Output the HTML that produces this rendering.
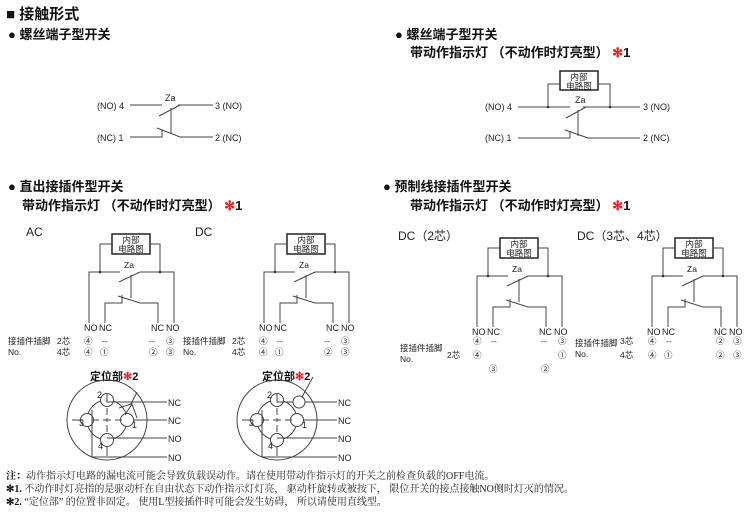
<!DOCTYPE html>
<html><head><meta charset="utf-8"><style>
body{margin:0;background:#fff;width:750px;height:513px;overflow:hidden}
svg{display:block}
text{font-family:"Liberation Sans","Noto Sans CJK SC",sans-serif;fill:#222}
.b{font-weight:bold;fill:#111}
.n{font-family:"Liberation Serif","Noto Serif CJK SC",serif}
.l{stroke:#444;stroke-width:1;fill:none}
</style></head><body>
<svg width="750" height="513" viewBox="0 0 750 513">
<defs>
<g id="sw">
 <rect x="112" y="234" width="38" height="20" fill="#fff" stroke="#222" stroke-width="1.5"/>
 <text x="131" y="243" font-size="8.5" text-anchor="middle">内部</text>
 <text x="131" y="252" font-size="8.5" text-anchor="middle">电路图</text>
 <path class="l" d="M112 244H100V272M150 244H160V272"/>
 <circle cx="100" cy="272" r="1.3" fill="#222"/><circle cx="160" cy="272" r="1.3" fill="#222"/>
 <text x="129" y="268" font-size="8.5" text-anchor="middle">Za</text>
 <path class="l" d="M89 323V272H120M140 272H174V323M119 282L140 272M131 275V298M105 323V303H122V295M118 296L140 303H158V323"/>
 <text x="84" y="331" font-size="9">NO</text><text x="99" y="331" font-size="9">NC</text>
 <text x="151" y="331" font-size="9">NC</text><text x="166" y="331" font-size="9">NO</text>
</g>
<g id="con">
 <circle cx="0" cy="0" r="40" class="l"/>
 <circle cx="0" cy="0" r="20" class="l"/>
 <circle cx="0" cy="-20" r="6.5" fill="#fff" stroke="#444"/>
 <circle cx="-20" cy="0" r="6.5" fill="#fff" stroke="#444"/>
 <circle cx="20" cy="0" r="6.5" fill="#fff" stroke="#444"/>
 <circle cx="0" cy="20" r="6.5" fill="#fff" stroke="#444"/>
 <path class="l" d="M-35 0H-24M-15 0H-8M-4 0H4M8 0H15M0 -12V-5M0 -2V2M0 5V12M0 26V36"/>
 <text x="-10" y="-22" font-size="9">2</text><text x="-28" y="6" font-size="9">3</text>
 <text x="25" y="8" font-size="9">1</text><text x="-9" y="29" font-size="9">4</text>
 <path class="l" d="M0 -26V-18H60M26 0H60M0 18H60M-15 -10V37H60"/>
 <text x="61" y="-14" font-size="9">NC</text><text x="61" y="4" font-size="9">NC</text>
 <text x="61" y="22" font-size="9">NO</text><text x="61" y="41" font-size="9">NO</text>
</g>
</defs>

<text x="6" y="19" font-size="15" class="b">■ 接触形式</text>
<text x="8" y="39" font-size="13" class="b">● 螺丝端子型开关</text>

<text x="97" y="109" font-size="9">(NO) 4</text>
<text x="165" y="101" font-size="9">Za</text>
<path class="l" d="M130 105H162M178 105H213M159 116L180 105M171 108V134M130 137H162V130M157 128L180 137H213"/>
<text x="215" y="109" font-size="9">3 (NO)</text>
<text x="97" y="141" font-size="9">(NC) 1</text>
<text x="215" y="141" font-size="9">2 (NC)</text>

<text x="395" y="39" font-size="13" class="b">● 螺丝端子型开关</text>
<text x="410" y="57" font-size="13" class="b">带动作指示灯 （不动作时灯亮型） <tspan fill="#d22">✻</tspan>1</text>
<rect x="560" y="71" width="38" height="19" fill="#fff" stroke="#222" stroke-width="1.5"/>
<text x="579" y="80" font-size="8.5" text-anchor="middle">内部</text>
<text x="579" y="89" font-size="8.5" text-anchor="middle">电路图</text>
<path class="l" d="M560 84H548V107M598 84H610V107"/>
<circle cx="548" cy="107" r="1.3" fill="#222"/><circle cx="610" cy="107" r="1.3" fill="#222"/>
<text x="575" y="103" font-size="9">Za</text>
<text x="485" y="110" font-size="9">(NO) 4</text>
<text x="643" y="110" font-size="9">3 (NO)</text>
<text x="485" y="141" font-size="9">(NC) 1</text>
<text x="643" y="141" font-size="9">2 (NC)</text>
<path class="l" d="M518 107H570M583 107H640M566 118L586 107M578 110V136M518 138H570V131M565 130L588 138H640"/>

<text x="8" y="191" font-size="13" class="b">● 直出接插件型开关</text>
<text x="22" y="210" font-size="13" class="b">带动作指示灯 （不动作时灯亮型） <tspan fill="#d22">✻</tspan>1</text>
<text x="26" y="236" font-size="12">AC</text>
<text x="195" y="236" font-size="12">DC</text>
<use href="#sw"/>
<use href="#sw" transform="translate(175,0)"/>
<g font-size="8.5">
<text x="8" y="344">接插件插脚</text><text x="8" y="355">No.</text>
<text x="57" y="344">2芯</text><text x="57" y="355">4芯</text>
<text x="84" y="344">④</text><text x="102" y="344">--</text><text x="149" y="344">--</text><text x="166" y="344">③</text>
<text x="84" y="355">④</text><text x="100" y="355">①</text><text x="149" y="355">②</text><text x="166" y="355">③</text>
<text x="183" y="344">接插件插脚</text><text x="183" y="355">No.</text>
<text x="232" y="344">2芯</text><text x="232" y="355">4芯</text>
<text x="259" y="344">④</text><text x="277" y="344">--</text><text x="324" y="344">--</text><text x="341" y="344">③</text>
<text x="259" y="355">④</text><text x="275" y="355">①</text><text x="324" y="355">②</text><text x="341" y="355">③</text>
</g>

<text x="383" y="191" font-size="13" class="b">● 预制线接插件型开关</text>
<text x="410" y="210" font-size="13" class="b">带动作指示灯 （不动作时灯亮型） <tspan fill="#d22">✻</tspan>1</text>
<text x="398" y="240" font-size="12">DC（2芯）</text>
<text x="577" y="240" font-size="12">DC（3芯、4芯）</text>
<use href="#sw" transform="translate(388,4)"/>
<use href="#sw" transform="translate(563,4)"/>
<g font-size="8.5">
<text x="473" y="344">④</text><text x="491" y="344">--</text><text x="541" y="344">--</text><text x="558" y="344">③</text>
<text x="400" y="351">接插件插脚</text><text x="400" y="362">No.</text><text x="447" y="358">2芯</text>
<text x="473" y="358">④</text><text x="558" y="358">①</text>
<text x="489" y="372">③</text><text x="541" y="372">②</text>
<text x="575" y="346">接插件插脚</text><text x="575" y="357">No.</text>
<text x="620" y="344">3芯</text><text x="620" y="358">4芯</text>
<text x="648" y="344">④</text><text x="666" y="344">--</text><text x="716" y="344">②</text><text x="733" y="344">③</text>
<text x="648" y="358">④</text><text x="664" y="358">①</text><text x="716" y="358">②</text><text x="733" y="358">③</text>
</g>

<text x="90" y="380" font-size="11" class="b">定位部<tspan fill="#d22">✻</tspan>2</text>
<text x="262" y="380" font-size="11" class="b">定位部<tspan fill="#d22">✻</tspan>2</text>
<g transform="translate(107,420)"><use href="#con"/><path class="l" d="M12 -12L24 -16L30 -28M18 -5L25 -16L30 -2"/></g>
<g transform="translate(277,420)"><use href="#con"/><circle cx="22" cy="-18" r="6" fill="#fff" stroke="#444"/><path class="l" d="M25 -23L36 -43"/></g>

<g font-size="10">
<text x="6" y="479" class="n"><tspan class="b">注：</tspan>动作指示灯电路的漏电流可能会导致负载误动作。请在使用带动作指示灯的开关之前检查负载的OFF电流。</text>
<text x="6" y="492" class="n"><tspan class="b">✻1.</tspan> 不动作时灯亮指的是驱动杆在自由状态下动作指示灯灯亮， 驱动杆旋转或被按下， 限位开关的接点接触NO侧时灯灭的情况。</text>
<text x="6" y="505" class="n"><tspan class="b">✻2.</tspan> “定位部” 的位置非固定。 使用L型接插件时可能会发生妨碍， 所以请使用直线型。</text>
</g>
</svg>
</body></html>
